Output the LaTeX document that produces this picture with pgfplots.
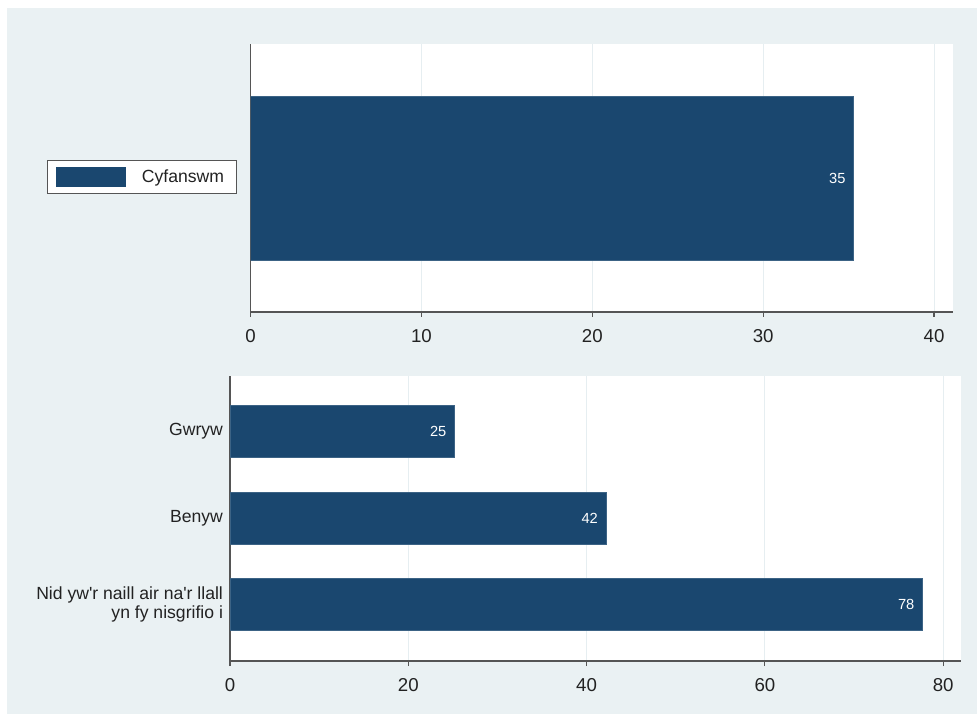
\documentclass[border=0pt]{standalone}
\usepackage{fontspec}
\setmainfont{Liberation Sans}
\usepackage{pgfplots}
\pgfplotsset{compat=1.18}
\definecolor{barc}{HTML}{1A476F}
\definecolor{bgc}{HTML}{EAF1F3}
\definecolor{gridc}{HTML}{E6EEF1}
\definecolor{axc}{HTML}{555555}
\definecolor{txt}{HTML}{222222}
\pgfplotsset{
  mystyle/.style={
    scale only axis,
    axis background/.style={fill=white},
    axis x line*=bottom,
    axis y line*=left,
    axis line style={axc, line width=0.9pt, -},
    xmin=0,
    tick align=outside,
    major tick length=3.75pt,
    x tick style={axc, line width=0.9pt},
    y tick style={draw=none},
    xmajorgrids,
    major grid style={gridc, line width=0.8pt},
    /pgf/number format/assume math mode=true,
    ticklabel style={font=\fontsize{14}{16}\selectfont, text=txt},
    xticklabel style={yshift=-5.5pt},
    xbar,
    point meta=x,
    nodes near coords={\pgfmathprintnumber[fixed,precision=0]{\pgfplotspointmeta}},
    every node near coord/.append style={anchor=east, text=white, inner sep=0pt, xshift=-6pt, font=\fontsize{11}{12}\selectfont},
  }
}
\begin{document}
\begin{tikzpicture}[x=0.75pt,y=0.75pt]
\fill[white] (0,0) rectangle (977,714);
\fill[bgc] (7,0) rectangle (977,706);
\begin{axis}[mystyle,
  at={(187.875pt,301.5pt)}, anchor=south west,
  width=526.9pt, height=201pt,
  xmax=41.11, ymin=0, ymax=1,
  xtick={0,10,20,30,40},
  ytick=\empty,
  bar width=0.612,
  legend style={at={(-0.289,0.504)}, anchor=west, draw=axc, line width=0.6pt, fill=white,
    inner xsep=6pt, inner ysep=3.5pt,
    nodes={inner sep=3pt, font=\fontsize{13.2}{15}\selectfont, text=txt},
    /tikz/every even column/.append style={column sep=8pt}},
  legend image code/.code={\fill[barc] (0pt,-6.9pt) rectangle (52pt,6.9pt);},
]
\addplot[fill=barc, draw=barc!85!white, line width=0.5pt] coordinates {(35.3,0.5)};
\addlegendentry{\hspace{9pt}Cyfanswm\hspace{0.8pt}}
\end{axis}
\begin{axis}[mystyle,
  at={(172.5pt,39.75pt)}, anchor=south west,
  width=548.25pt, height=213.75pt,
  xmax=82, ymin=0.358, ymax=3.653, y dir=reverse,
  xtick={0,20,40,60,80},
  ytick={1,2,3},
  yticklabels={Gwryw, Benyw, {Nid yw\textquotesingle r naill air na\textquotesingle r llall\\yn fy nisgrifio i}},
  yticklabel style={align=right, xshift=2pt, font=\fontsize{13.2}{14.5}\selectfont, text=txt},
  bar width=0.6,
]
\addplot[fill=barc, draw=barc!85!white, line width=0.5pt] coordinates {(25.2,1) (42.2,2) (77.7,3)};
\end{axis}
\end{tikzpicture}
\end{document}
